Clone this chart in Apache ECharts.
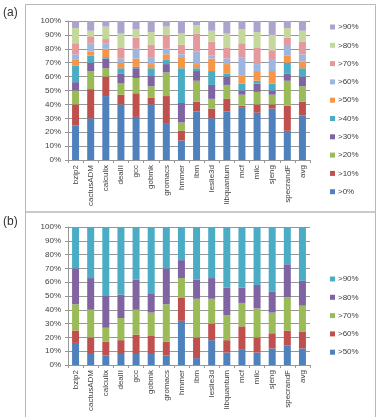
<!DOCTYPE html>
<html>
<head>
<meta charset="utf-8">
<script src="https://cdn.jsdelivr.net/npm/echarts@6/dist/echarts.min.js"></script>
<style>
html,body{margin:0;padding:0;background:#fff;}
#main{width:378px;height:417px;}
</style>
</head>
<body>
<div id="main"></div>
<script>
var categories = ['bzip2','cactusADM','calculix','dealII','gcc','gobmk','gromacs','hmmer','lbm','leslie3d','libquantum','mcf','milc','sjeng','specrandF','avg'];
var yTicks = ['0%','10%','20%','30%','40%','50%','60%','70%','80%','90%','100%'];

// panel (a)
var namesA = ['>0%','>10%','>20%','>30%','>40%','>50%','>60%','>70%','>80%','>90%'];
var colorsA = ['#4f81bd','#c0504d','#9bbb59','#8064a2','#4bacc6','#f79646','#9db6e0','#e49a9c','#c4d89b','#aca4cc'];
var a0  = [25,30,46,40,31,40,26,14,35,30,35,38,34,37,21,32];
var a10 = [15,21,14, 7,17, 5,20, 7, 7, 7, 9, 1, 6, 3,18,10];
var a20 = [10,13, 6, 8,11, 8,17, 6,15, 7,10, 8, 9, 7,18,11];
var a30 = [ 6, 6, 7, 7, 7, 8, 6,14, 7,10, 6, 3, 6, 3, 5, 7];
var a40 = [12, 5, 1, 4, 1, 5, 3,25, 2,10, 2, 5, 2, 5, 8, 6];
var a50 = [ 4, 3, 6, 4, 6, 3, 4, 8, 3, 9, 7, 6, 7, 9, 5, 5];
var a60 = [ 4, 6, 4, 3, 7, 5, 4, 2, 9, 2, 4,13, 5, 8, 7, 5];
var a70 = [ 8, 5, 3, 8, 8, 9,10, 7,13,10, 8,10,12, 7, 6, 9];
var a80 = [11, 4, 9,10, 6, 9, 6, 8, 6, 8,10,10,11,11, 7, 8];
var a90 = [ 5, 7, 4, 9, 6, 8, 4, 9, 3, 7, 9, 6, 8,10, 5, 7];
var valuesA = [a0,a10,a20,a30,a40,a50,a60,a70,a80,a90];

// panel (b)
var namesB = ['>50%','>60%','>70%','>80%','>90%'];
var colorsB = ['#4f81bd','#c0504d','#9bbb59','#8064a2','#4bacc6'];
var b50 = [16, 8, 7, 8, 8, 8, 7,32, 5,18, 9,11, 9,12,14,12];
var b60 = [ 9,12,10,10,14,13,10,17,15,12, 9,17,11,11,11,12];
var b70 = [19,20,10,16,18,17,27,14,28,18,18,17,21,15,24,19];
var b80 = [26,23,23,17,22,14,26,13,14,15,20,11,17,15,24,18];
var b90 = [30,37,50,49,38,48,30,24,38,37,44,44,42,47,27,39];
var valuesB = [b50,b60,b70,b80,b90];

var chart = echarts.init(document.getElementById('main'));
var txt = '#404040';
var gridCol = '#979797';

function xAx(i){
	return {
		type:'category', gridIndex:i, data:categories,
		axisLine:{lineStyle:{color:gridCol}},
		axisTick:{show:true, alignWithLabel:false, length:3, lineStyle:{color:gridCol}},
		axisLabel:{rotate:90, fontSize:8, color:txt, margin:5, interval:0, fontFamily:'Liberation Sans'}
	};
}
function yAx(i){
	return {
		type:'value', gridIndex:i, min:0, max:100, interval:10,
		axisLine:{show:true, lineStyle:{color:gridCol}},
		axisTick:{show:true, length:3, lineStyle:{color:gridCol}},
		splitLine:{lineStyle:{color:gridCol, width:1}},
		axisLabel:{fontSize:8, color:txt, margin:7, fontFamily:'Liberation Sans',
			formatter:function(v){ return yTicks[Math.round(v/10)]; }}
	};
}

var series = [];
valuesA.forEach(function(d,k){
	series.push({name:namesA[k], type:'bar', stack:'a', xAxisIndex:0, yAxisIndex:0,
		barWidth:7, data:d, itemStyle:{color:colorsA[k]}, animation:false});
});
valuesB.forEach(function(d,k){
	series.push({name:namesB[k]+' ', type:'bar', stack:'b', xAxisIndex:1, yAxisIndex:1,
		barWidth:7, data:d, itemStyle:{color:colorsB[k]}, animation:false});
});

function legend(names, top){
	return {
		orient:'vertical', left:330, top:top, padding:0, itemWidth:5, itemHeight:5, itemGap:8.3,
		icon:'rect', data:names.slice().reverse(), selectedMode:false,
		textStyle:{fontSize:8, color:txt, lineHeight:10, fontFamily:'Liberation Sans',
			padding:[0,0,0,-2]}
	};
}

chart.setOption({
	animation:false,
	textStyle:{fontFamily:'Liberation Sans'},
	graphic:[
		{type:'rect', shape:{x:25.5, y:4.5, width:350, height:207.5}, style:{fill:'none', stroke:'#b8b8b8', lineWidth:1}},
		{type:'rect', shape:{x:25.5, y:212, width:350, height:210}, style:{fill:'none', stroke:'#b8b8b8', lineWidth:1}},
		{type:'text', left:3, top:7, style:{text:'(a)', fontSize:12, fill:'#333', fontFamily:'Liberation Sans'}},
		{type:'text', left:3, top:216, style:{text:'(b)', fontSize:12, fill:'#333', fontFamily:'Liberation Sans'}}
	],
	grid:[
		{left:68, top:21, width:242, height:139},
		{left:68, top:227, width:242, height:138}
	],
	xAxis:[xAx(0), xAx(1)],
	yAxis:[yAx(0), yAx(1)],
	legend:[legend(namesA, 22), legend(namesB.map(function(n){return n+' ';}), 274)],
	series:series
});
</script>
</body>
</html>
